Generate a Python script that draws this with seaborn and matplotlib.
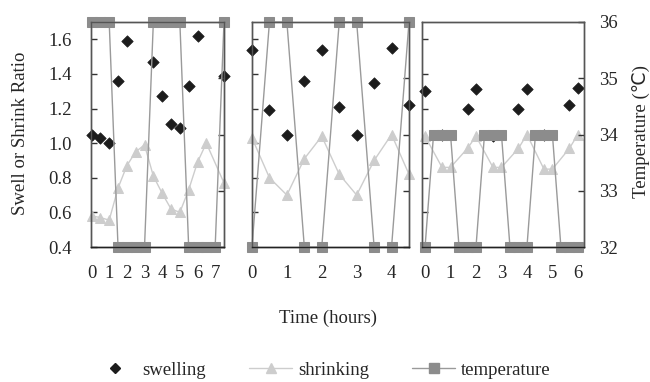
import numpy as np
import pandas as pd
import matplotlib
matplotlib.use("Agg")
import matplotlib.pyplot as plt
from matplotlib.lines import Line2D
import seaborn as sns

# ---------------- data ----------------
# Panel 1
tp1_t = [0, 0.5, 1, 1.5, 2, 2.5, 3, 3.5, 4, 4.5, 5, 5.5, 6, 6.5, 7, 7.5]
tp1 = [36, 36, 36, 32, 32, 32, 32, 36, 36, 36, 36, 32, 32, 32, 32, 36]
sw1_t = [0, 0.5, 1, 1.5, 2, 3.5, 4, 4.5, 5, 5.5, 6, 7.5]
sw1 = [1.05, 1.03, 1.00, 1.36, 1.59, 1.47, 1.27, 1.11, 1.09, 1.33, 1.62, 1.39]
sh1_t = [0, 0.5, 1, 1.5, 2, 2.5, 3, 3.5, 4, 4.5, 5, 5.5, 6, 6.5, 7.5]
sh1 = [0.58, 0.57, 0.555, 0.74, 0.87, 0.95, 0.99, 0.81, 0.71, 0.62, 0.60, 0.73, 0.89, 1.00, 0.77]

# Panel 2
t2 = [0, 0.5, 1, 1.5, 2, 2.5, 3, 3.5, 4, 4.5]
tp2 = [32, 36, 36, 32, 32, 36, 36, 32, 32, 36]
sw2 = [1.54, 1.19, 1.05, 1.36, 1.54, 1.21, 1.05, 1.35, 1.55, 1.22]
sh2 = [1.03, 0.80, 0.70, 0.91, 1.04, 0.82, 0.70, 0.90, 1.05, 0.82]

# Panel 3
tp3_t = [0, 1/3, 2/3, 1, 4/3, 5/3, 2, 7/3, 8/3, 3, 10/3, 11/3, 4, 13/3, 14/3, 5, 16/3, 17/3, 6]
tp3 = [32, 34, 34, 34, 32, 32, 32, 34, 34, 34, 32, 32, 32, 34, 34, 34, 32, 32, 32]
sw3_t = [0, 2/3, 5/3, 2, 8/3, 11/3, 4, 14/3, 17/3, 6]
sw3 = [1.30, 1.045, 1.20, 1.31, 1.04, 1.20, 1.31, 1.045, 1.22, 1.32]
sh3_t = [0, 2/3, 1, 5/3, 2, 8/3, 3, 11/3, 4, 14/3, 5, 17/3, 6]
sh3 = [1.04, 0.86, 0.86, 0.97, 1.04, 0.86, 0.86, 0.97, 1.05, 0.85, 0.85, 0.97, 1.05]

xticks1 = [0, 1, 2, 3, 4, 5, 6, 7]
xticks2 = [0, 1, 2, 3, 4]
xticks3 = [0, 1, 2, 3, 4, 5, 6]
ratio_ticks = [0.4, 0.6, 0.8, 1.0, 1.2, 1.4, 1.6]
temp_ticks = [32, 33, 34, 35, 36]

# ---------------- style ----------------
sns.set_style("white")
plt.rcParams['font.family'] = ['Liberation Serif', 'DejaVu Sans']
FS = 13.5

W, H = 650, 382
fig = plt.figure(figsize=(W / 100, H / 100), dpi=100)

def frac(x0, x1, y0, y1):
    return [x0 / W, 1 - y1 / H, (x1 - x0) / W, (y1 - y0) / H]

panels = [
    dict(rect=frac(91, 224, 22, 247), xlim=(-0.03, 7.5), xt=xticks1,
         sw=(sw1_t, sw1), sh=(sh1_t, sh1), tp=(tp1_t, tp1)),
    dict(rect=frac(252, 409, 22, 247), xlim=(0, 4.5), xt=xticks2,
         sw=(t2, sw2), sh=(t2, sh2), tp=(t2, tp2)),
    dict(rect=frac(422, 584, 22, 247), xlim=(-0.12, 6.24), xt=xticks3,
         sw=(sw3_t, sw3), sh=(sh3_t, sh3), tp=(tp3_t, tp3)),
]

SW_C = '#1c1c1c'
SH_C = '#cdcdcd'
TP_C = '#8c8c8c'
TPL_C = '#9a9a9a'
SP_C = '#555555'

for i, p in enumerate(panels):
    ax = fig.add_axes(p['rect'])
    ax2 = ax.twinx()
    df_sh = pd.DataFrame({'t': p['sh'][0], 'v': p['sh'][1]})
    df_sw = pd.DataFrame({'t': p['sw'][0], 'v': p['sw'][1]})
    df_tp = pd.DataFrame({'t': p['tp'][0], 'v': p['tp'][1]})
    sns.lineplot(data=df_sh, x='t', y='v', ax=ax, color=SH_C, lw=1.0,
                 marker='^', markersize=7, markeredgecolor=SH_C,
                 sort=False, estimator=None, clip_on=False)
    sns.scatterplot(data=df_sw, x='t', y='v', ax=ax, color=SW_C, marker='D',
                    s=34, edgecolor=SW_C, linewidth=0.5, clip_on=False, zorder=3)
    sns.lineplot(data=df_tp, x='t', y='v', ax=ax2, color=TPL_C, lw=1.0,
                 marker='s', markersize=7, markerfacecolor=TP_C,
                 markeredgecolor=TP_C, sort=False, estimator=None, clip_on=False)
    ax.set_xlim(*p['xlim'])
    ax.set_ylim(0.4, 1.7)
    ax2.set_ylim(32, 36)
    ax.set_xticks(p['xt'])
    ax.set_yticks(ratio_ticks)
    ax2.set_yticks(temp_ticks)
    ax.set_xlabel('')
    ax.set_ylabel('')
    ax2.set_ylabel('')
    ax.tick_params(axis='both', direction='in', length=4, width=1,
                   color='#333333', labelsize=FS)
    ax.tick_params(axis='y', pad=14)
    ax.tick_params(axis='x', pad=13)
    ax2.tick_params(axis='y', direction='in', length=4, width=1,
                    color='#333333', labelsize=FS, pad=11)
    if i != 0:
        ax.set_yticklabels([])
    if i != 2:
        ax2.set_yticklabels([])
    for a in (ax, ax2):
        for s in a.spines.values():
            s.set_visible(True)
            s.set_color(SP_C)
            s.set_linewidth(1.0)
        a.spines['bottom'].set_color('#222222')
    ax.grid(False)
    ax2.grid(False)

fig.text(21 / W, 1 - 133 / H, 'Swell or Shrink Ratio', rotation=90,
         ha='center', va='center', fontsize=FS)
fig.text(641 / W, 1 - 132 / H, 'Temperature (℃)', rotation=90,
         ha='center', va='center', fontsize=FS,
         family=['Liberation Serif', 'DejaVu Sans'])
fig.text(328 / W, 1 - 318 / H, 'Time (hours)', ha='center', va='center',
         fontsize=FS)

handles = [
    Line2D([], [], ls='none', marker='D', color=SW_C, markersize=5.5),
    Line2D([], [], color=SH_C, lw=1.0, marker='^', markersize=7),
    Line2D([], [], color=TPL_C, lw=1.0, marker='s', markersize=7,
           markerfacecolor=TP_C, markeredgecolor=TP_C),
]
fig.legend(handles, ['swelling', 'shrinking', 'temperature'], ncol=3,
           loc='center', bbox_to_anchor=(322 / W, 1 - 370 / H), frameon=False,
           fontsize=FS, handlelength=2.3, columnspacing=2.3, handletextpad=0.3)

fig.savefig('out.png', dpi=100)
